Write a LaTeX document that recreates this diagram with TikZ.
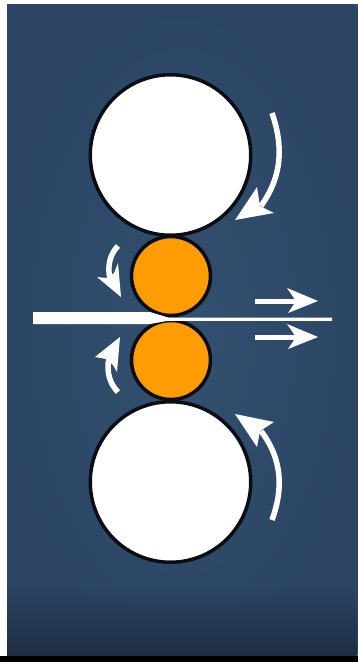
\documentclass[tikz,border=0pt]{standalone}
\usepackage{xcolor}
\usepackage{tikz}
\usetikzlibrary{fadings}

\definecolor{panelmid}{HTML}{32506F}
\definecolor{paneledge}{HTML}{2C4565}
\definecolor{paneldark}{HTML}{1E2D42}
\definecolor{workroll}{HTML}{FF9C05}
\definecolor{rollrim}{HTML}{0B0D14}

\begin{document}
\begin{tikzpicture}[
    x=1pt, y=-1pt,
    backuproll/.style={circle, draw=rollrim, line width=3.5pt, fill=white, minimum size=160.5pt, inner sep=0pt},
    workrollnode/.style={circle, draw=rollrim, line width=3.5pt, fill=workroll, minimum size=79pt, inner sep=0pt},
    sweep/.style={draw=white, line width=5.5pt, line cap=butt},
    sweepthin/.style={draw=white, line width=5.5pt, line cap=butt},
    shaft/.style={draw=white, line width=5pt, line cap=butt},
    head/.style={fill=white, draw=none}
  ]
    \useasboundingbox (0,0) rectangle (358,662);

    % Background
    \fill[black] (0,655.5) rectangle (358,662);
    \shade[inner color=panelmid, outer color=paneledge] (7,4) rectangle (357.5,655.5);
    \fill[paneldark, path fading=north] (7,585) rectangle (357.5,655.5);

    % Rolls
    \node[backuproll] (upper-backup) at (170.5,155) {};
    \node[backuproll] (lower-backup) at (170.5,482) {};
    \node[workrollnode] (upper-work) at (171,276) {};
    \node[workrollnode] (lower-work) at (171,360) {};

    % Strip
    \fill[white] (33,312) -- (150,312) -- (168,317.5) -- (332,317.5) -- (332,320.8) -- (168,320.8) -- (150,324) -- (33,324) -- cycle;

    % Arrows - backup rolls
    \draw[sweep] (272,113) .. controls (283,145) and (283,175) .. (261,206);
    \fill[head] (235,220) -- (257,187) -- (260,206) -- (274,213) -- cycle;
    \draw[sweep] (272,520) .. controls (283,490) and (283,460) .. (261,431);
    \fill[head] (235,414) -- (257,447) -- (260,431) -- (274,422) -- cycle;

    % Arrows - work rolls
    \draw[sweepthin] (118,246) .. controls (110,254) and (107,266) .. (110,279);
    \fill[head] (121,297) -- (97,277) -- (107,278) -- (114,273) -- (118,263) -- cycle;
    \draw[sweepthin] (118,392) .. controls (110,384) and (106,372) .. (109,358);
    \fill[head] (120,337) -- (95,357) -- (106,359) -- (113,365) -- (117,372) -- cycle;

    % Arrows - strip travel
    \draw[shaft] (255,301) -- (298,301);
    \fill[head] (318,301) -- (287,288) -- (296,301) -- (288,313) -- cycle;
    \draw[shaft] (255,337) -- (298,337);
    \fill[head] (318,337) -- (287,324) -- (296,337) -- (288,349) -- cycle;

\end{tikzpicture}
\end{document}
